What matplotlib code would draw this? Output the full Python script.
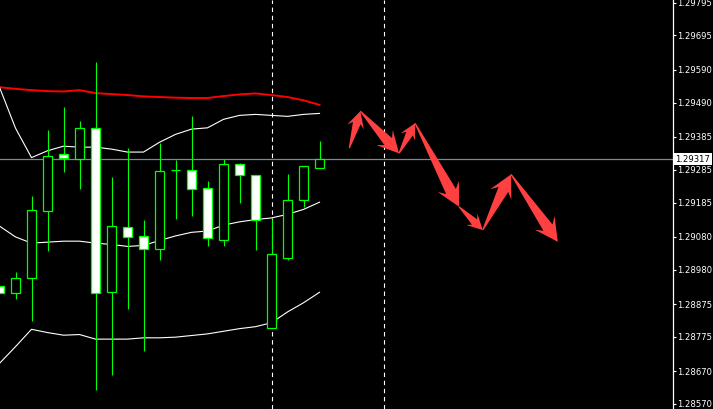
import numpy as np
import matplotlib
matplotlib.use("Agg")
import matplotlib.pyplot as plt
import matplotlib.transforms as mtransforms
from matplotlib.patches import Polygon

# ---------------- DATA ----------------
opens  = [1.28930, 1.28908, 1.28954, 1.29158, 1.29332, 1.29319, 1.29412, 1.28911, 1.29109, 1.29082,
          1.29042, 1.29284, 1.29283, 1.29228, 1.29072, 1.29302, 1.29268, 1.28803, 1.29015, 1.29192, 1.29291]
highs  = [1.28933, 1.28973, 1.29205, 1.29406, 1.29477, 1.29434, 1.29614, 1.29263, 1.29351, 1.29132,
          1.29366, 1.29314, 1.29449, 1.29251, 1.29318, 1.29306, 1.29269, 1.29134, 1.29272, 1.29297, 1.29373]
lows   = [1.28906, 1.28891, 1.28824, 1.29038, 1.29279, 1.29227, 1.28614, 1.28659, 1.28861, 1.28733,
          1.29010, 1.29136, 1.29145, 1.29053, 1.29053, 1.29185, 1.29041, 1.28803, 1.29010, 1.29172, 1.29291]
closes = [1.28908, 1.28954, 1.29161, 1.29326, 1.29320, 1.29412, 1.28908, 1.29112, 1.29081, 1.29042,
          1.29280, 1.29284, 1.29227, 1.29076, 1.29302, 1.29270, 1.29133, 1.29027, 1.29192, 1.29296, 1.29317]

bb_upper = [1.29537, 1.29412, 1.29322, 1.29343, 1.29357, 1.29354, 1.29354, 1.29348, 1.29339, 1.29339,
            1.29369, 1.29393, 1.29409, 1.29413, 1.29439, 1.29451, 1.29454, 1.29451, 1.29448, 1.29454, 1.29457]
bb_mid   = [1.29113, 1.29080, 1.29061, 1.29064, 1.29067, 1.29067, 1.29061, 1.29057, 1.29051, 1.29054,
            1.29069, 1.29083, 1.29094, 1.29098, 1.29116, 1.29126, 1.29133, 1.29138, 1.29149, 1.29164, 1.29186]
bb_lower = [1.28694, 1.28745, 1.28798, 1.28788, 1.28780, 1.28782, 1.28768, 1.28768, 1.28768, 1.28772,
            1.28772, 1.28774, 1.28779, 1.28784, 1.28792, 1.28800, 1.28806, 1.28818, 1.28851, 1.28879, 1.28911]
ma_red   = [1.29537, 1.29532, 1.29528, 1.29525, 1.29524, 1.29528, 1.29519, 1.29516, 1.29513, 1.29509,
            1.29507, 1.29505, 1.29504, 1.29504, 1.29510, 1.29515, 1.29518, 1.29513, 1.29507, 1.29497, 1.29483]

last_price = 1.29317
vline_bars = [17, 24]

# forecast zigzag drawn as fat arrows (bar index, price)
arrow_x = [21.86, 22.55, 24.97, 25.97, 28.72, 30.20, 31.97, 34.89]
arrow_y = [1.29351, 1.29464, 1.29335, 1.29427, 1.29172, 1.29101, 1.29271, 1.29065]

price_ticks = [1.29795, 1.29695, 1.29590, 1.29490, 1.29385, 1.29285, 1.29185,
               1.29080, 1.28980, 1.28875, 1.28775, 1.28670, 1.28570]

GREEN = "#00ff00"
ARROW_RED = "#ff4040"

# ---------------- FIGURE ----------------
fig = plt.figure(figsize=(7.13, 4.09), dpi=100, facecolor="black")
ax = fig.add_axes([0, 0, 673 / 713, 1])
ax.set_facecolor("black")
ax.set_xlim(0.03125, 42.09)
ax.set_ylim(1.285547, 1.298032)

x = np.arange(len(opens))
o = np.array(opens)
c = np.array(closes)

# indicator lines
ax.plot(x, ma_red, color="red", lw=1.4, zorder=2)
ax.plot(x, bb_upper, color="white", lw=0.8, zorder=2)
ax.plot(x, bb_mid, color="white", lw=0.8, zorder=2)
ax.plot(x, bb_lower, color="white", lw=0.8, zorder=2)

ax.axhline(last_price, color="#778899", lw=0.9, zorder=1)
for vb in vline_bars:
    ax.axvline(vb, color="white", lw=0.8, linestyle=(0, (4, 3.3)), zorder=1)

# candles
ax.vlines(x, lows, highs, color=GREEN, lw=0.8, zorder=3)
bottoms = np.minimum(o, c)
heights = np.maximum(np.abs(c - o), 1e-7)
fills = ["black" if cc >= oo else "white" for oo, cc in zip(o, c)]
ax.bar(x, heights, bottom=bottoms, width=0.62, color=fills, edgecolor=GREEN, linewidth=0.9, zorder=4)


# ---------------- ARROWS ----------------
def fat_arrow(ax, p0, p1, color):
    T = ax.transData
    a = T.transform(p0)
    b = T.transform(p1)
    d = b - a
    L = np.hypot(d[0], d[1])
    u = d / L
    n = np.array([-u[1], u[0]])
    h = np.clip(0.25 * L + 7, 12, 23)
    hw, sw = 0.52 * h, 0.24 * h
    pts = [a + n * 0.6,
           b - u * 0.75 * h + n * sw,
           b - u * h + n * hw,
           b,
           b - u * h - n * hw,
           b - u * 0.75 * h - n * sw,
           a - n * 0.6]
    pts = T.inverted().transform(np.array(pts))
    ax.add_patch(Polygon(pts, closed=True, fc=color, ec="none", zorder=5))


for i in range(len(arrow_x) - 1):
    fat_arrow(ax, (arrow_x[i], arrow_y[i]), (arrow_x[i + 1], arrow_y[i + 1]), ARROW_RED)

# ---------------- AXES ----------------
for side in ["top", "bottom", "left"]:
    ax.spines[side].set_visible(False)
ax.spines["right"].set_color("white")
ax.spines["right"].set_linewidth(0.9)
ax.set_xticks([])
ax.yaxis.tick_right()
ax.set_yticks(price_ticks)
ax.set_yticklabels([f"{p:.5f}" for p in price_ticks])
ax.tick_params(axis="y", colors="white", labelsize=6.1, length=2.0, width=0.8, pad=1.0, direction="out")

trans = mtransforms.blended_transform_factory(ax.transAxes, ax.transData)
ax.text(1.0 + 2 / 673, last_price, f"{last_price:.5f}", transform=trans, ha="left", va="center",
        fontsize=6.1, color="black", zorder=10, clip_on=False,
        bbox=dict(boxstyle="square,pad=0.2", fc="white", ec="none"))

fig.savefig("out.png", dpi=100, facecolor="black")
